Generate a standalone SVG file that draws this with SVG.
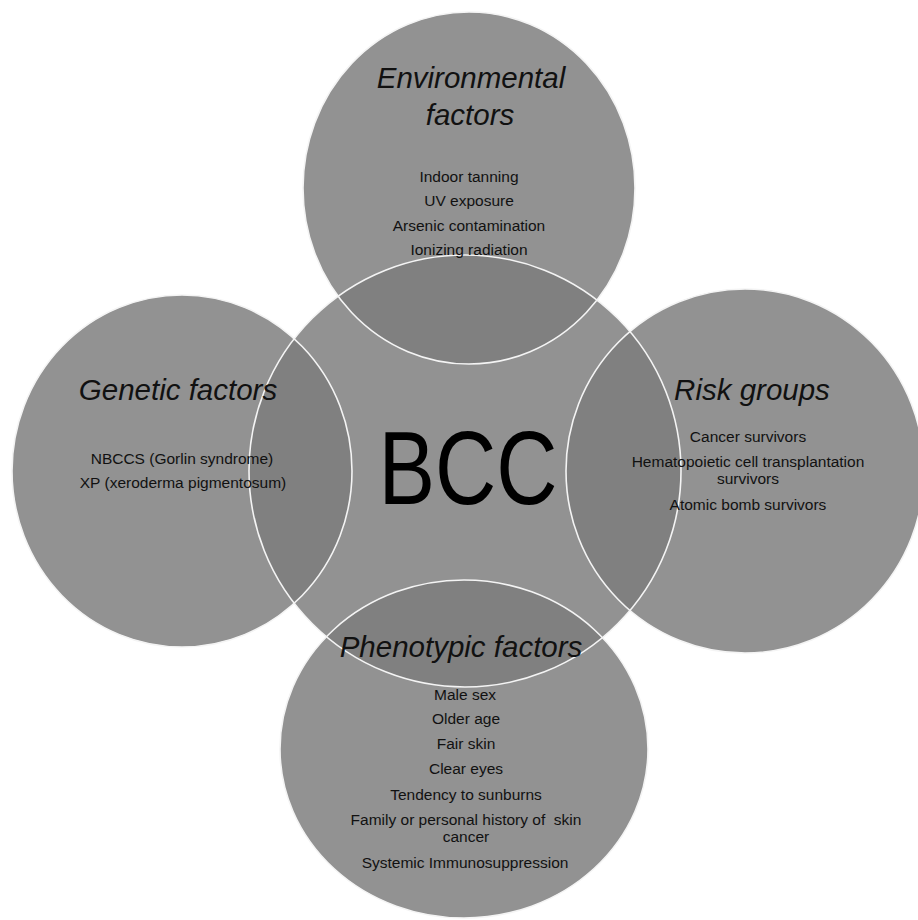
<svg xmlns="http://www.w3.org/2000/svg" width="918" height="920" viewBox="0 0 918 920">
  <style>
    .disc { fill: #7c7c7c; fill-opacity: 0.835; stroke: none; }
    .rim { fill: none; stroke: #f4f4f4; stroke-width: 1.6; }
    .title { font-family: "Liberation Sans", Arial, sans-serif; font-style: italic; font-size: 29.5px; fill: #111; text-anchor: middle; }
    .item { font-family: "Liberation Sans", Arial, sans-serif; font-size: 15.5px; fill: #111; text-anchor: middle; }
    .core { font-family: "Liberation Sans", Arial, sans-serif; font-size: 103px; fill: #000; text-anchor: middle; }
  </style>
  <rect width="918" height="920" fill="#ffffff"/>

  <!-- outer factor circles and the central BCC circle -->
  <g id="environmental">
    <ellipse class="disc" cx="469" cy="188" rx="166" ry="176"/>
  </g>
  <g id="genetic">
    <ellipse class="disc" cx="182" cy="471" rx="170" ry="176"/>
  </g>
  <g id="risk">
    <ellipse class="disc" cx="745" cy="471" rx="179" ry="182"/>
  </g>
  <g id="phenotypic">
    <ellipse class="disc" cx="464" cy="749" rx="184" ry="169"/>
  </g>
  <g id="bcc">
    <circle class="disc" cx="465" cy="471" r="216"/>
  </g>

  <!-- white rims drawn over all fills -->
  <g id="connectors">
    <ellipse class="rim" cx="469" cy="188" rx="166" ry="176"/>
    <ellipse class="rim" cx="182" cy="471" rx="170" ry="176"/>
    <ellipse class="rim" cx="745" cy="471" rx="179" ry="182"/>
    <ellipse class="rim" cx="464" cy="749" rx="184" ry="169"/>
    <circle class="rim" cx="465" cy="471" r="216"/>
  </g>

  <!-- labels -->
  <g id="environmental-text">
    <text class="title" x="471" y="88">Environmental</text>
    <text class="title" x="470" y="125">factors</text>
    <text class="item" x="469" y="182">Indoor tanning</text>
    <text class="item" x="469" y="206">UV exposure</text>
    <text class="item" x="469" y="231">Arsenic contamination</text>
    <text class="item" x="469" y="255">Ionizing radiation</text>
  </g>
  <g id="genetic-text">
    <text class="title" x="178" y="400">Genetic factors</text>
    <text class="item" x="182" y="464">NBCCS (Gorlin syndrome)</text>
    <text class="item" x="183" y="488">XP (xeroderma pigmentosum)</text>
  </g>
  <g id="risk-text">
    <text class="title" x="752" y="400">Risk groups</text>
    <text class="item" x="748" y="442">Cancer survivors</text>
    <text class="item" x="748" y="467">Hematopoietic cell transplantation</text>
    <text class="item" x="748" y="484">survivors</text>
    <text class="item" x="748" y="510">Atomic bomb survivors</text>
  </g>
  <g id="phenotypic-text">
    <text class="title" x="461" y="657">Phenotypic factors</text>
    <text class="item" x="465" y="700">Male sex</text>
    <text class="item" x="466" y="724">Older age</text>
    <text class="item" x="466" y="749">Fair skin</text>
    <text class="item" x="466" y="774">Clear eyes</text>
    <text class="item" x="466" y="800">Tendency to sunburns</text>
    <text class="item" x="466" y="825" xml:space="preserve">Family or personal history of  skin</text>
    <text class="item" x="466" y="842">cancer</text>
    <text class="item" x="465" y="868">Systemic Immunosuppression</text>
  </g>
  <g id="bcc-text">
    <text class="core" x="468" y="504" textLength="179" lengthAdjust="spacingAndGlyphs">BCC</text>
  </g>
</svg>
